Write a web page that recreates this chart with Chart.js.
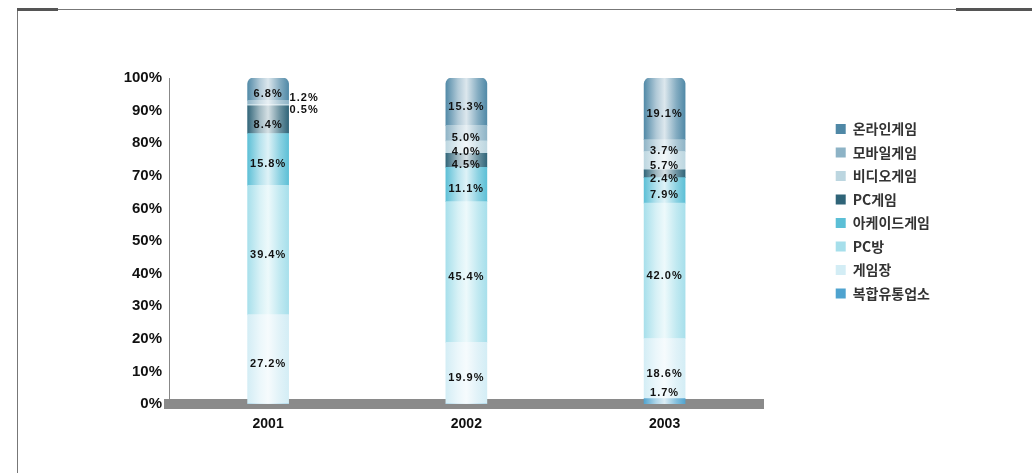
<!DOCTYPE html>
<html>
<head>
<meta charset="utf-8">
<script src="https://cdn.jsdelivr.net/npm/chart.js@4.4.1/dist/chart.umd.min.js"></script>
<style>
  html, body { margin: 0; padding: 0; background: #fff; }
  #wrap { position: relative; width: 1032px; height: 473px; overflow: hidden; }
  .frame { position: absolute; left: 17px; top: 9px; right: 0; bottom: 0; border-top: 1px solid #777; border-left: 1px solid #777; }
  .thick { position: absolute; top: 8px; height: 3px; background: #555; }
  canvas { position: absolute; left: 0; top: 0; }
</style>
</head>
<body>
<div id="wrap">
  <div class="frame"></div>
  <div class="thick" style="left:17px;width:41px"></div>
  <div class="thick" style="left:956px;width:76px"></div>
  <canvas id="canvas" width="1032" height="473"></canvas>
</div>
<script>
// categories
var years = ['2001', '2002', '2003'];
// series, bottom of the stack first
var seriesNames = ['복합유통업소', '게임장', 'PC방', '아케이드게임', 'PC게임', '비디오게임', '모바일게임', '온라인게임'];
// shares (%) as printed on the columns
var bokhap   = [0, 0, 1.7];
var gamejang = [27.2, 19.9, 18.6];
var pcbang   = [39.4, 45.4, 42.0];
var arcade   = [15.8, 11.1, 7.9];
var pcgame   = [8.4, 4.5, 2.4];
var video    = [0.5, 4.0, 5.7];
var mobile   = [1.2, 5.0, 3.7];
var online   = [6.8, 15.3, 19.1];
var yTickLabels = ['0%', '10%', '20%', '30%', '40%', '50%', '60%', '70%', '80%', '90%', '100%'];

var seriesValues = [bokhap, gamejang, pcbang, arcade, pcgame, video, mobile, online];
var colors = ['#4fa3cf', '#d3edf5', '#a6dfeb', '#5bbfd6', '#2f6478', '#bcd6e0', '#8db3c6', '#4f88a6'];

// 100% stacked: each column is scaled to its own total
var totals = years.map(function(y, i) {
    return seriesValues.reduce(function(s, arr) { return s + arr[i]; }, 0);
});

function tint(hex, t) {
    var n = parseInt(hex.slice(1), 16);
    var r = n >> 16, g = (n >> 8) & 255, b = n & 255;
    r = Math.round(r + (255 - r) * t);
    g = Math.round(g + (255 - g) * t);
    b = Math.round(b + (255 - b) * t);
    return 'rgb(' + r + ',' + g + ',' + b + ')';
}

// horizontal gradient so each column looks like a cylinder
function cylinder(base) {
    return function(c) {
        if (c.type !== 'data' || !c.chart.scales.x) return base;
        var cx = c.chart.scales.x.getPixelForValue(c.dataIndex);
        if (!isFinite(cx)) return base;
        var g = c.chart.ctx.createLinearGradient(cx - 21, 0, cx + 21, 0);
        g.addColorStop(0, base);
        g.addColorStop(0.3, tint(base, 0.55));
        g.addColorStop(0.5, tint(base, 0.8));
        g.addColorStop(0.78, tint(base, 0.3));
        g.addColorStop(1, base);
        return g;
    };
}

var datasets = seriesNames.map(function(name, d) {
    return {
        label: name,
        data: seriesValues[d].map(function(v, i) { return v / totals[i] * 100; }),
        backgroundColor: cylinder(colors[d]),
        borderWidth: 0,
        barThickness: 41,
        borderRadius: d === seriesNames.length - 1 ? { topLeft: 6, topRight: 6, bottomLeft: 0, bottomRight: 0 } : 0,
        borderSkipped: false
    };
});

var segLabels = {
    id: 'segLabels',
    afterDatasetsDraw: function(chart) {
        var ctx = chart.ctx;
        var bottom = chart.chartArea.bottom;
        ctx.save();
        ctx.font = 'bold 11px "Liberation Sans", Arial, sans-serif';
        ctx.letterSpacing = '1px';
        ctx.fillStyle = '#111';
        ctx.textBaseline = 'middle';
        years.forEach(function(y, i) {
            var outside = [];
            seriesValues.forEach(function(arr, d) {
                var v = arr[i];
                if (!v) return;
                var el = chart.getDatasetMeta(d).data[i];
                var mid = (el.y + el.base) / 2;
                var text = v.toFixed(1) + '%';
                if (v < 1.5) {
                    outside.push({ text: text, x: el.x + el.width / 2 + 1, y: mid });
                    return;
                }
                ctx.textAlign = 'center';
                ctx.fillText(text, el.x, Math.min(mid + 5, bottom - 11));
            });
            if (outside.length) {
                outside.sort(function(a, b) { return a.y - b.y; });
                var mean = outside.reduce(function(s, o) { return s + o.y; }, 0) / outside.length;
                var start = mean - (outside.length - 1) * 6;
                ctx.textAlign = 'left';
                outside.forEach(function(o, k) { ctx.fillText(o.text, o.x, start + k * 12); });
            }
        });
        ctx.restore();
    }
};

var ctx = document.getElementById('canvas').getContext('2d');
new Chart(ctx, {
    type: 'bar',
    data: { labels: years, datasets: datasets },
    plugins: [segLabels],
    options: {
        responsive: false,
        animation: false,
        layout: { padding: { top: 78, right: 92, bottom: 29, left: 0 } },
        plugins: {
            tooltip: { enabled: false },
            legend: {
                position: 'right',
                align: 'start',
                reverse: true,
                fullSize: false,
                title: { display: true, text: '', padding: { top: 20, bottom: 0 } },
                labels: {
                    boxWidth: 10,
                    boxHeight: 10,
                    padding: 9.5,
                    color: '#333',
                    font: { family: '"Noto Sans CJK KR", sans-serif', size: 14, weight: 'bold' }
                }
            }
        },
        scales: {
            x: {
                stacked: true,
                grid: { display: false, drawTicks: false },
                border: { color: '#8a8a8a', width: 10 },
                ticks: { color: '#111', padding: 12, font: { family: '"Liberation Sans", Arial, sans-serif', size: 14, weight: 'bold' } },
                afterFit: function(s) { s.height = 40; }
            },
            y: {
                stacked: true,
                min: 0,
                max: 100,
                grid: { display: false, drawTicks: false },
                border: { color: '#888', dash: [2, 2] },
                ticks: {
                    stepSize: 10,
                    padding: 7,
                    color: '#111',
                    font: { family: '"Liberation Sans", Arial, sans-serif', size: 15, weight: 'bold' },
                    callback: function(v, i) { return yTickLabels[i]; }
                },
                afterFit: function(s) { s.width = 169; }
            },
            gap: {
                position: 'right',
                grid: { display: false, drawTicks: false },
                border: { display: false },
                ticks: { display: false },
                afterFit: function(s) { s.width = 62.5; }
            }
        }
    }
});
</script>
</body>
</html>
